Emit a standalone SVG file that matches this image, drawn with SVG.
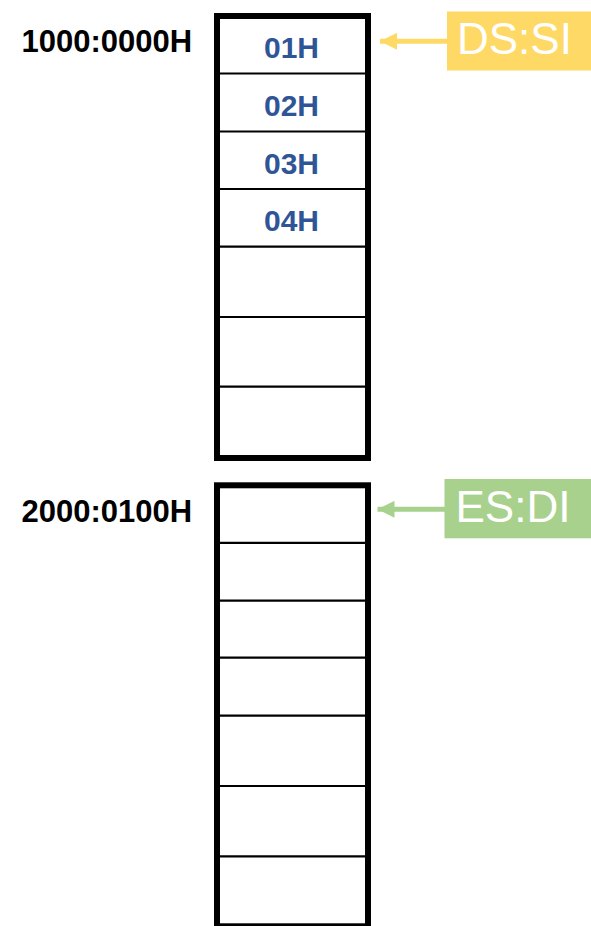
<svg xmlns="http://www.w3.org/2000/svg" width="591" height="926" viewBox="0 0 591 926">
<style>
.frame{fill:#fff;stroke:#000;stroke-width:6}
.div{stroke:#000;stroke-width:2.2}
.addr{font-family:"Liberation Sans",Arial,sans-serif;font-weight:bold;font-size:31px;fill:#000}
.val{font-family:"Liberation Sans",Arial,sans-serif;font-weight:bold;font-size:30px;fill:#2F5597;text-anchor:middle}
.reg{font-family:"Liberation Sans",Arial,sans-serif;font-size:44px;fill:#fff}
</style>
<defs>
<marker id="ah-y" viewBox="0 0 17 17" refX="17" refY="8.5" markerWidth="17" markerHeight="17" markerUnits="userSpaceOnUse" orient="auto"><path d="M0,0 L17,8.5 L0,17 Z" fill="#FFD966"/></marker>
<marker id="ah-g" viewBox="0 0 17 17" refX="17" refY="8.5" markerWidth="17" markerHeight="17" markerUnits="userSpaceOnUse" orient="auto"><path d="M0,0 L17,8.5 L0,17 Z" fill="#A9D18E"/></marker>
</defs>
<g id="block-ds">
<rect class="frame" x="217" y="16" width="151" height="442"/>
<line class="div" x1="220" y1="73.5" x2="365" y2="73.5"/>
<line class="div" x1="220" y1="131.5" x2="365" y2="131.5"/>
<line class="div" x1="220" y1="189" x2="365" y2="189"/>
<line class="div" x1="220" y1="246.7" x2="365" y2="246.7"/>
<line class="div" x1="220" y1="317" x2="365" y2="317"/>
<line class="div" x1="220" y1="386.7" x2="365" y2="386.7"/>
<text class="val" x="291.5" y="58.3">01H</text>
<text class="val" x="291.5" y="116">02H</text>
<text class="val" x="291.5" y="173.6">03H</text>
<text class="val" x="291.5" y="231.3">04H</text>
</g>
<g id="block-es">
<rect class="frame" x="217" y="485.3" width="151" height="441"/>
<line class="div" x1="220" y1="542.8" x2="365" y2="542.8"/>
<line class="div" x1="220" y1="600.7" x2="365" y2="600.7"/>
<line class="div" x1="220" y1="657.7" x2="365" y2="657.7"/>
<line class="div" x1="220" y1="715.7" x2="365" y2="715.7"/>
<line class="div" x1="220" y1="786" x2="365" y2="786"/>
<line class="div" x1="220" y1="856.3" x2="365" y2="856.3"/>
</g>
<g id="label-1000">
<text class="addr" x="21.5" y="52.3">1000:0000H</text>
</g>
<g id="label-2000">
<text class="addr" x="21.5" y="521.7">2000:0100H</text>
</g>
<g id="reg-dssi">
<rect x="447" y="11.5" width="150" height="59" fill="#FFD966"/>
<text class="reg" x="457" y="54.3">DS:SI</text>
</g>
<g id="reg-esdi">
<rect x="444.5" y="479" width="150" height="59.3" fill="#A9D18E"/>
<text class="reg" x="455.5" y="522.3">ES:DI</text>
</g>
<g id="connectors">
<line x1="448" y1="41.3" x2="380" y2="41.3" stroke="#FFD966" stroke-width="5" marker-end="url(#ah-y)"/>
<line x1="445" y1="509.3" x2="377.5" y2="509.3" stroke="#A9D18E" stroke-width="5" marker-end="url(#ah-g)"/>
</g>
</svg>
